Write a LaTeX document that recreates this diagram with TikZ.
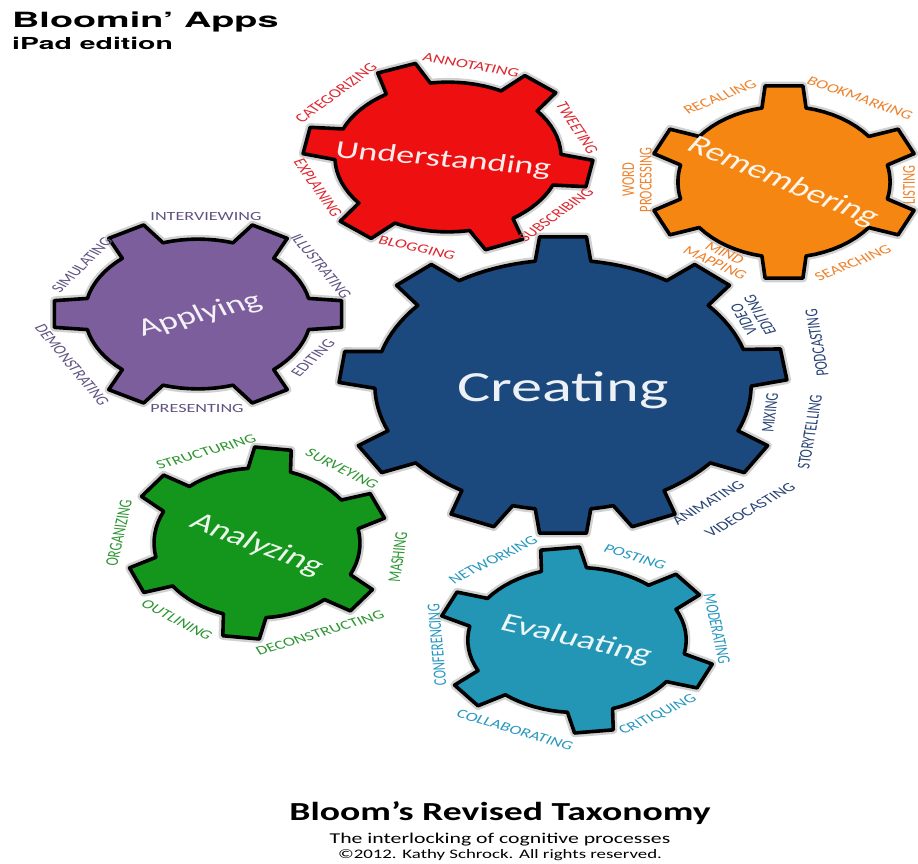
\documentclass[tikz,border=0pt]{standalone}
\usepackage{fontspec}
\usepackage{graphicx}
\setmainfont{Carlito}
\newfontfamily\helv{TeX Gyre Heros}
\definecolor{undC}{RGB}{238,16,16}
\definecolor{undL}{RGB}{222,40,48}
\definecolor{remC}{RGB}{246,134,18}
\definecolor{remL}{RGB}{238,130,45}
\definecolor{appC}{RGB}{124,94,156}
\definecolor{appL}{RGB}{98,84,130}
\definecolor{creC}{RGB}{27,73,125}
\definecolor{creL}{RGB}{40,68,118}
\definecolor{anaC}{RGB}{20,150,28}
\definecolor{anaL}{RGB}{45,150,50}
\definecolor{evaC}{RGB}{35,150,182}
\definecolor{evaL}{RGB}{40,152,192}
\tikzset{
  gearline/.style={draw=black, line width=3.6pt, line join=round},
  gearshadow/.style={draw=black, draw opacity=0.18, line width=8.5pt, line join=round},
  lab/.style={font=\fontsize{12.5}{12}\selectfont, inner sep=0pt, align=center},
  gtitle/.style={text=white, text opacity=0.92, inner sep=0pt},
}
% #1 name, #2 cx, #3 cy, #4 Rx, #5 Ry, #6 fill, #7 inner radius, #8 tip half-angle, #9 base half-angle
\newcommand\gearshape[9]{%
  \begin{scope}[shift={(#2,#3)},xscale=#4,yscale=#5]
    \coordinate (#1) at (0,0);
    \draw[gearshadow]
      ({\gfirst-#9}:#7) \foreach \gA/\gB in \gteeth {
        -- ({\gA-#9}:#7) -- ({\gA-#8}:1) -- ({\gA+#8}:1) -- ({\gA+#9}:#7)
        \foreach \k in {1,...,7} { -- ({\gA+#9+\k*(\gB-\gA-2*#9)/8}:#7) } } -- cycle;
    \draw[gearline, fill=#6]
      ({\gfirst-#9}:#7) \foreach \gA/\gB in \gteeth {
        -- ({\gA-#9}:#7) -- ({\gA-#8}:1) -- ({\gA+#8}:1) -- ({\gA+#9}:#7)
        \foreach \k in {1,...,7} { -- ({\gA+#9+\k*(\gB-\gA-2*#9)/8}:#7) } } -- cycle;
  \end{scope}}
% label: #1 name, #2 x, #3 y, #4 rotation, #5 colour, #6 text
\newcommand\glbl[6]{%
  \begin{scope}[shift={(#2,#3)},xscale=1.45]
    \node[lab, text=#5, rotate=#4, transform shape] (#1) at (0,0) {#6};
  \end{scope}}
% title: #1 name, #2 x, #3 y, #4 rotation, #5 size, #6 text
\newcommand\gttl[6]{%
  \begin{scope}[shift={(#2,#3)},xscale=1.45]
    \node[gtitle, font=\fontsize{#5}{#5}\selectfont, rotate=#4, transform shape] (#1) at (0,0) {#6};
  \end{scope}}
\begin{document}
\begin{tikzpicture}[x=1pt,y=-1pt]
\useasboundingbox (0,0) rectangle (918,864);
\fill[white] (0,0) rectangle (918,864);

% ---------- gears ----------
\def\gfirst{10}\def\gteeth{10/67,67/130,130/190,190/249,249/310,310/370}
\gearshape{und}{448}{157}{145}{96}{undC}{0.78}{8}{12}

\def\gfirst{270}\def\gteeth{270/335,335/385,25/90,90/155,155/205,205/270}
\gearshape{rem}{784}{182}{136}{97}{remC}{0.78}{8}{12}

\def\gfirst{0}\def\gteeth{0/60,60/120,120/180,180/240,240/300,300/360}
\gearshape{app}{198}{314}{145}{96}{appC}{0.78}{8}{12}

\def\gfirst{270}\def\gteeth{270/312,312/352,352/390,30/66,66/90,90/114,114/150,150/187,187/228,228/270}
\gearshape{cre}{563}{385}{224}{149}{creC}{0.84}{6}{8.5}

\def\gfirst{277}\def\gteeth{277/337,337/397,37/97,97/157,157/217,217/277}
\gearshape{ana}{257}{543}{132}{96}{anaC}{0.78}{8}{12}

\def\gfirst{263}\def\gteeth{263/323,323/383,23/83,83/143,143/203,203/263}
\gearshape{eva}{577}{640}{140}{93}{evaC}{0.78}{8}{12}

% ---------- gear titles ----------
\gttl{t-und}{443}{160}{-7.2}{25}{Understanding}
\gttl{t-rem}{783}{182}{-31}{26}{Remembering}
\gttl{t-app}{200}{315}{20}{25}{Applying}
\gttl{t-cre}{563}{390}{0}{43}{Creating}
\gttl{t-ana}{257}{545}{-28.6}{26}{Analyzing}
\gttl{t-eva}{576}{640}{-18.4}{26}{Evaluating}

% ---------- Understanding labels ----------
\glbl{l-cat}{336}{93}{46.5}{undL}{CATEGORIZING}
\glbl{l-ann}{471}{65}{-14}{undL}{ANNOTATING}
\glbl{l-twe}{577}{128}{-65.5}{undL}{TWEETING}
\glbl{l-sub}{556}{215}{46}{undL}{SUBSCRIBING}
\glbl{l-blo}{417}{248}{-18}{undL}{BLOGGING}
\glbl{l-exp}{318}{188}{-64}{undL}{EXPLAINING}

% ---------- Remembering labels ----------
\glbl{l-rec}{720}{97}{31}{remL}{RECALLING}
\glbl{l-boo}{860}{98}{-27}{remL}{BOOKMARKING}
\glbl{l-lis}{909}{185}{90}{remL}{LISTING}
\glbl{l-wor}{637}{180}{90}{remL}{WORD\\PROCESSING}
\glbl{l-min}{720}{258}{-34}{remL}{MIND\\MAPPING}
\glbl{l-sea}{853}{263}{31}{remL}{SEARCHING}

% ---------- Applying labels ----------
\glbl{l-int}{206}{216}{0}{appL}{INTERVIEWING}
\glbl{l-ill}{321}{266}{-59.6}{appL}{ILLUSTRATING}
\glbl{l-edi}{313}{358}{53}{appL}{EDITING}
\glbl{l-pre}{197}{408}{0}{appL}{PRESENTING}
\glbl{l-dem}{72}{365}{-60}{appL}{DEMONSTRATING}
\glbl{l-sim}{82}{265}{55}{appL}{SIMULATING}

% ---------- Creating labels ----------
\glbl{l-vid}{752}{317}{112}{creL}{VIDEO\\EDITING}
\glbl{l-pod}{817}{343}{97}{creL}{PODCASTING}
\glbl{l-mix}{770}{413}{85}{creL}{MIXING}
\glbl{l-sto}{810}{432}{83}{creL}{STORYTELLING}
\glbl{l-ani}{708}{503}{39.6}{creL}{ANIMATING}
\glbl{l-vic}{750}{510}{39.8}{creL}{VIDEOCASTING}

% ---------- Analyzing labels ----------
\glbl{l-str}{206}{452}{22.4}{anaL}{STRUCTURING}
\glbl{l-sur}{342}{469}{-36}{anaL}{SURVEYING}
\glbl{l-mas}{398}{557}{84}{anaL}{MASHING}
\glbl{l-dec}{320}{633}{23.4}{anaL}{DECONSTRUCTING}
\glbl{l-out}{177}{620}{-37}{anaL}{OUTLINING}
\glbl{l-org}{119}{533}{81}{anaL}{ORGANIZING}

% ---------- Evaluating labels ----------
\glbl{l-net}{493}{560}{35.6}{evaL}{NETWORKING}
\glbl{l-pos}{635}{557}{-24.4}{evaL}{POSTING}
\glbl{l-mod}{717}{629}{-81.4}{evaL}{MODERATING}
\glbl{l-cri}{658}{715}{34}{evaL}{CRITIQUING}
\glbl{l-col}{515}{730}{-23}{evaL}{COLLABORATING}
\glbl{l-con}{437}{645}{93.5}{evaL}{CONFERENCING}

% ---------- headings ----------
\node[font=\helv\bfseries\fontsize{21}{21}\selectfont, anchor=base west, inner sep=0pt] (h1) at (12,28) {\scalebox{1.8}[1]{Bloomin’ Apps}};
\node[font=\helv\bfseries\fontsize{16.5}{16.5}\selectfont, anchor=base west, inner sep=0pt] (h2) at (12,50) {\scalebox{1.72}[1]{iPad edition}};

\node[font=\bfseries\fontsize{26}{26}\selectfont, anchor=base, inner sep=0pt] (bt) at (500,820) {\scalebox{1.45}[1]{Bloom’s Revised Taxonomy}};
\node[font=\fontsize{15}{15}\selectfont, anchor=base, inner sep=0pt] (bs) at (500,843) {\scalebox{1.45}[1]{The interlocking of cognitive processes}};
\node[font=\fontsize{13}{13}\selectfont, anchor=base, inner sep=0pt] (bc) at (500,858) {\scalebox{1.45}[1]{©2012. Kathy Schrock. All rights reserved.}};
\end{tikzpicture}
\end{document}
